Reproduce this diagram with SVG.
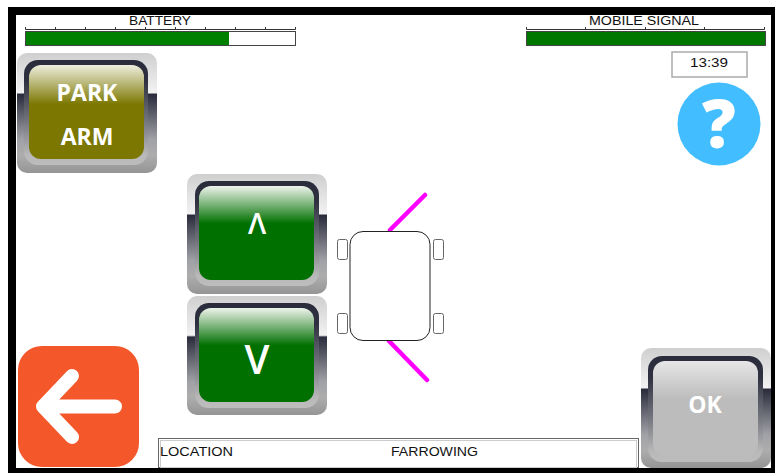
<svg xmlns="http://www.w3.org/2000/svg" width="775" height="473" viewBox="0 0 775 473">
<style>
.lbl{font-family:"Liberation Sans",Arial,sans-serif;font-size:13.500px;fill:#111;lengthAdjust:spacingAndGlyphs}
.btn{font-family:"Open Sans","Noto Sans",sans-serif;font-weight:700;fill:#fff;text-anchor:middle}
.tick{stroke:#333;stroke-width:1;fill:none}
.car{fill:#fff;stroke:#666;stroke-width:1}
.arm{stroke:#ff00ff;stroke-width:4.500;stroke-linecap:round;fill:none}
</style>
<defs>
<linearGradient id="outer" x1="0" y1="0" x2="0" y2="1">
<stop offset="0" stop-color="#cfcfcf"/><stop offset="0.33" stop-color="#f2f2f2"/><stop offset="0.345" stop-color="#2a2c3c"/><stop offset="0.72" stop-color="#a0a1a6"/><stop offset="0.85" stop-color="#adadad"/><stop offset="1" stop-color="#959595"/>
</linearGradient>
<linearGradient id="rim" x1="0" y1="0" x2="0" y2="1">
<stop offset="0" stop-color="#2a2c3c"/><stop offset="0.2" stop-color="#2f3140"/><stop offset="0.55" stop-color="#6d6f78"/><stop offset="0.9" stop-color="#b8b8b8"/><stop offset="1" stop-color="#bdbdbd"/>
</linearGradient>
<linearGradient id="olive" x1="0" y1="0" x2="0" y2="1">
<stop offset="0" stop-color="#eeeede"/><stop offset="0.42" stop-color="#7b7700"/><stop offset="1" stop-color="#7b7700"/>
</linearGradient>
<linearGradient id="green" x1="0" y1="0" x2="0" y2="1">
<stop offset="0" stop-color="#eef3ec"/><stop offset="0.4" stop-color="#007000"/><stop offset="1" stop-color="#007000"/>
</linearGradient>
<linearGradient id="grey" x1="0" y1="0" x2="0" y2="1">
<stop offset="0" stop-color="#e6e6e6"/><stop offset="0.4" stop-color="#bcbcbc"/><stop offset="1" stop-color="#bcbcbc"/>
</linearGradient>
</defs>
<rect width="775" height="473" fill="#fff"/>
<path d="M8 7H775V473H8Z M16 15V468H771V15Z" fill="#000" fill-rule="evenodd"/>

<g id="battery">
<text class="lbl" x="129" y="24.500" textLength="62" lengthAdjust="spacingAndGlyphs">BATTERY</text>
<path class="tick" d="M25.500 29.500H295.500M25.500 27V29.500M55.500 27V29.500M85.500 27V29.500M115.500 27V29.500M145.500 27V29.500M175.500 27V29.500M205.500 27V29.500M235.500 27V29.500M265.500 27V29.500M295.500 27V29.500"/>
<rect x="25.500" y="31.500" width="270" height="14" fill="#fff" stroke="#444"/>
<rect x="26" y="32" width="203" height="13" fill="#008000"/>
</g>

<g id="mobile-signal">
<text class="lbl" x="589" y="24.500" textLength="110" lengthAdjust="spacingAndGlyphs">MOBILE SIGNAL</text>
<path class="tick" d="M526.500 29.500H764.500M526.500 27V29.500M585.500 27V29.500M645.500 27V29.500M704.500 27V29.500M764.500 27V29.500"/>
<rect x="526.500" y="31.500" width="239" height="14" fill="#007800" stroke="#444"/>
</g>

<g id="clock">
<rect x="672" y="52" width="75" height="25" fill="#fff" stroke="#aaa" stroke-width="1.500"/>
<text class="lbl" x="690" y="67" textLength="38" lengthAdjust="spacingAndGlyphs">13:39</text>
</g>

<g id="help">
<circle cx="719" cy="124" r="41.500" fill="#42bdff"/>
<text x="719" y="148" text-anchor="middle" font-family="'Open Sans',sans-serif" font-weight="800" font-size="67" fill="#fff">?</text>
</g>

<g id="park-arm">
<rect x="17" y="53" width="140" height="120" rx="10" fill="url(#outer)"/>
<rect x="24" y="60" width="124" height="105" rx="14" fill="url(#rim)"/>
<rect x="29" y="65" width="115" height="94" rx="12" fill="url(#olive)"/>
<text class="btn" x="87" y="101" font-size="23">PARK</text>
<text class="btn" x="87" y="145" font-size="23">ARM</text>
</g>

<g id="up">
<rect x="187" y="174" width="140" height="120" rx="10" fill="url(#outer)"/>
<rect x="195" y="181" width="124" height="105" rx="14" fill="url(#rim)"/>
<rect x="199" y="186" width="115" height="94" rx="12" fill="url(#green)"/>
<text x="257" y="234" text-anchor="middle" font-family="'Open Sans',sans-serif" font-weight="600" font-size="29" fill="#fff">&#923;</text>
</g>

<g id="down">
<rect x="187" y="296" width="140" height="119" rx="10" fill="url(#outer)"/>
<rect x="195" y="303" width="124" height="105" rx="14" fill="url(#rim)"/>
<rect x="199" y="308" width="115" height="94" rx="12" fill="url(#green)"/>
<text x="257" y="374" text-anchor="middle" font-family="'Open Sans',sans-serif" font-weight="600" font-size="40" fill="#fff">V</text>
</g>

<g id="vehicle">
<path class="arm" d="M390 230L425 195M389 341L427 380"/>
<rect x="350" y="231.500" width="80" height="109" rx="13" fill="#fff" stroke="#222"/>
<rect class="car" x="337.500" y="239.500" width="10" height="20" rx="2"/>
<rect class="car" x="433.500" y="239.500" width="10" height="20" rx="2"/>
<rect class="car" x="337.500" y="313.500" width="10" height="20" rx="2"/>
<rect class="car" x="433.500" y="313.500" width="10" height="20" rx="2"/>
</g>

<g id="back">
<rect x="18" y="346" width="121" height="121" rx="24" fill="#f4572a"/>
<path d="M115 406.500H43M72 376L43 406.500L72 437" fill="none" stroke="#fff" stroke-width="14" stroke-linecap="round" stroke-linejoin="round"/>
</g>

<g id="ok">
<rect x="641" y="348" width="130" height="120" rx="10" fill="url(#outer)"/>
<rect x="648" y="356" width="115" height="106" rx="14" fill="url(#rim)"/>
<rect x="653" y="361" width="105" height="95" rx="12" fill="url(#grey)"/>
<text class="btn" x="705" y="413" font-size="23">OK</text>
</g>

<g id="location">
<rect x="158.500" y="438.500" width="480" height="29" fill="#fff" stroke="#666"/>
<rect x="160.500" y="440.500" width="476" height="27" fill="none" stroke="#ccc"/>
<text class="lbl" x="160" y="456" textLength="73" lengthAdjust="spacingAndGlyphs">LOCATION</text>
<text class="lbl" x="391" y="456" textLength="87" lengthAdjust="spacingAndGlyphs">FARROWING</text>
</g>
</svg>
